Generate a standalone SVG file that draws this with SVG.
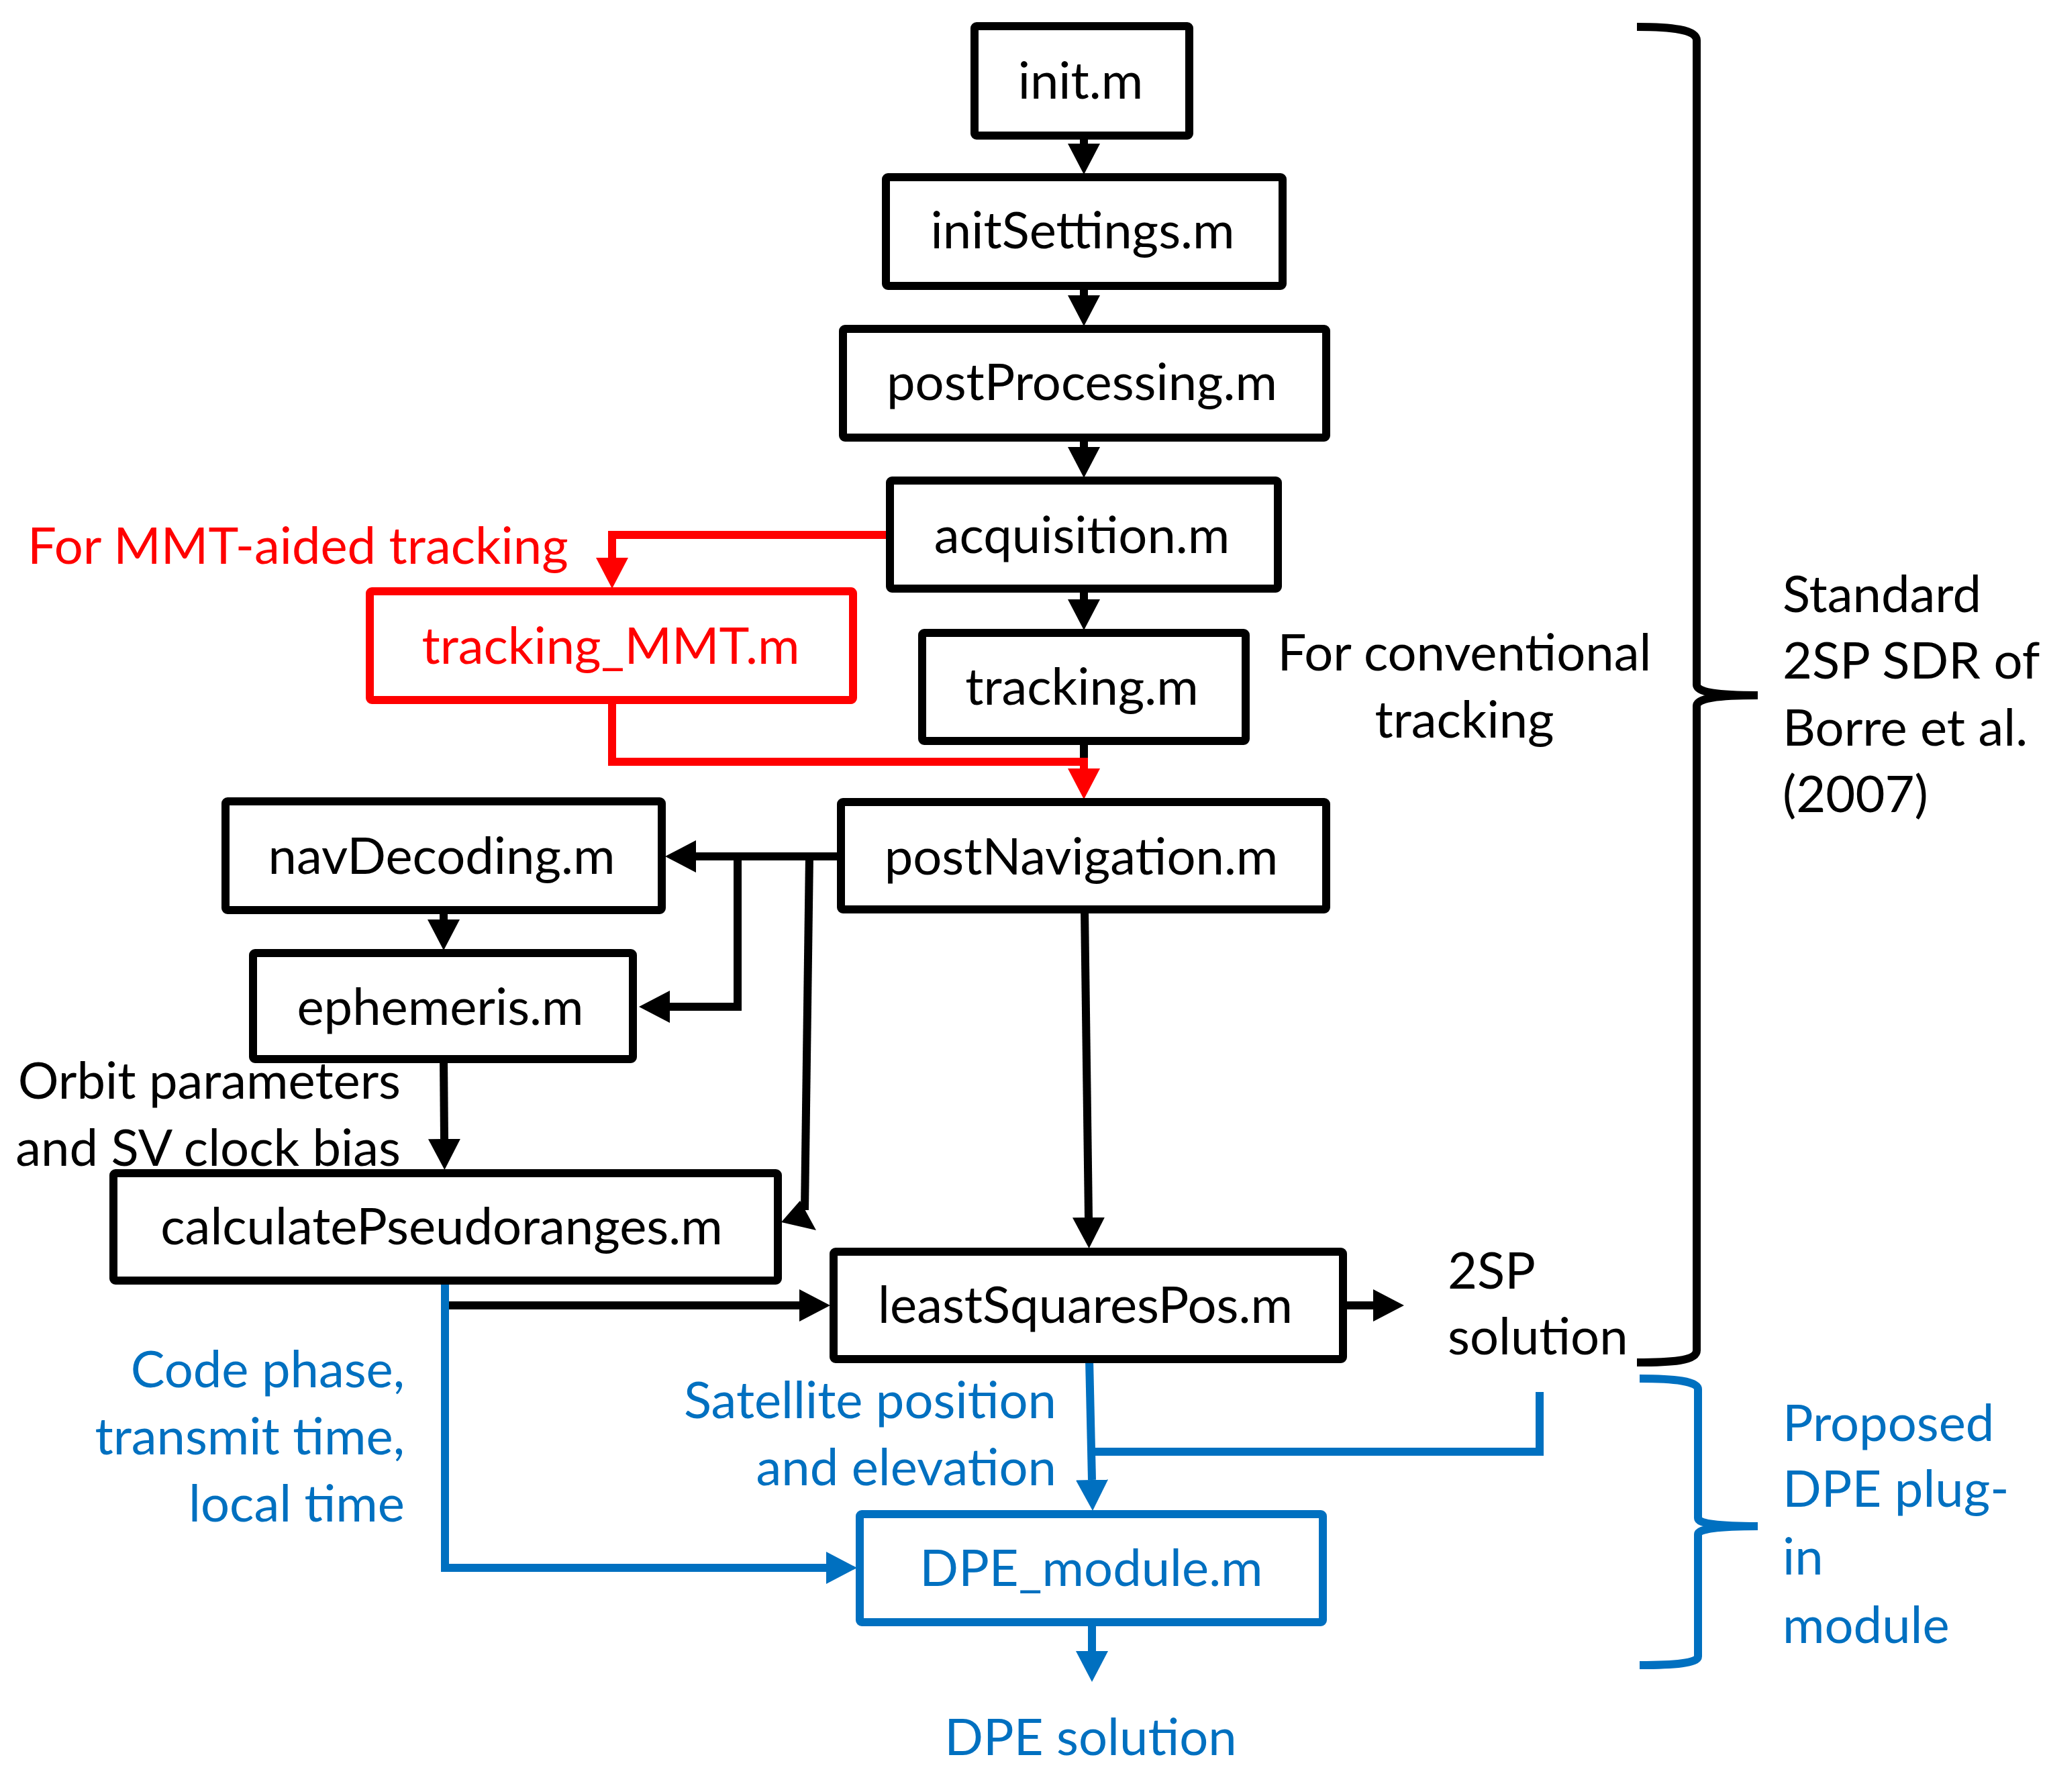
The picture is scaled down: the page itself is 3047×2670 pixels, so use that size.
<svg xmlns="http://www.w3.org/2000/svg" width="3047" height="2670" viewBox="0 0 3047 2670">
<defs>
<style>
.box{fill:#fff;stroke:#000;stroke-width:12;stroke-linejoin:round}
.rbox{fill:#fff;stroke:#FF0000;stroke-width:12;stroke-linejoin:round}
.bbox{fill:#fff;stroke:#0070C0;stroke-width:12;stroke-linejoin:round}
text{font-family:Lato,"Liberation Sans",sans-serif;font-size:76px}
.c{text-anchor:middle}
.e{text-anchor:end}
.k{fill:#000}
.r{fill:#FF0000}
.b{fill:#0070C0}
.lk{fill:none;stroke:#000;stroke-width:12}
.lr{fill:none;stroke:#FF0000;stroke-width:12}
.lb{fill:none;stroke:#0070C0;stroke-width:12}
</style>
<marker id="ak" markerUnits="userSpaceOnUse" markerWidth="46" markerHeight="48" viewBox="0 0 46 48" refX="0" refY="24" orient="auto"><path d="M0,0 L46,24 L0,48 z" fill="#000"/></marker>
<marker id="ar" markerUnits="userSpaceOnUse" markerWidth="46" markerHeight="48" viewBox="0 0 46 48" refX="0" refY="24" orient="auto"><path d="M0,0 L46,24 L0,48 z" fill="#FF0000"/></marker>
<marker id="ab" markerUnits="userSpaceOnUse" markerWidth="46" markerHeight="48" viewBox="0 0 46 48" refX="0" refY="24" orient="auto"><path d="M0,0 L46,24 L0,48 z" fill="#0070C0"/></marker>
</defs>
<rect width="3047" height="2670" fill="#fff"/>

<g id="connectors">
<path class="lk" d="M1615,202 V214" marker-end="url(#ak)"/>
<path class="lk" d="M1615,426 V440" marker-end="url(#ak)"/>
<path class="lk" d="M1615,652 V666" marker-end="url(#ak)"/>
<path class="lk" d="M1615,877 V893" marker-end="url(#ak)"/>
<path class="lk" d="M1615,1104 V1145"/>
<path class="lr" d="M1326,797 H912 V831" marker-end="url(#ar)"/>
<path class="lr" d="M912,1043 V1135 H1615 V1145" marker-end="url(#ar)"/>
<path class="lk" d="M1253,1276 H1037" marker-end="url(#ak)"/>
<path class="lk" d="M1099,1276 V1500 H998" marker-end="url(#ak)"/>
<path class="lk" style="stroke-width:12" d="M1206,1276 L1199,1803"/>
<polygon points="1192,1789 1216,1833 1164,1821" fill="#000"/>
<path class="lk" d="M661,1356 V1370" marker-end="url(#ak)"/>
<path class="lk" d="M661,1578 L662,1697" marker-end="url(#ak)"/>
<path class="lk" d="M1616,1355 L1622,1814" marker-end="url(#ak)"/>
<path class="lk" d="M663,1908 V1945 H1191" marker-end="url(#ak)"/>
<path class="lk" d="M2001,1945 H2046" marker-end="url(#ak)"/>
<path class="lb" d="M663,1908 V2336 H1231" marker-end="url(#ab)"/>
<path class="lb" d="M1623,2025 L1627,2205" marker-end="url(#ab)"/>
<path class="lb" d="M2294,2074 V2163 H1627"/>
<path class="lb" d="M1627,2417 V2460" marker-end="url(#ab)"/>
</g>

<g id="init"><rect class="box" x="1452" y="39" width="320" height="163" rx="3"/><text class="c k" x="1610" y="147">init.m</text></g>
<g id="initSettings"><rect class="box" x="1320" y="264" width="591" height="162" rx="3"/><text class="c k" x="1613" y="370">initSettings.m</text></g>
<g id="postProcessing"><rect class="box" x="1256" y="490" width="720" height="162" rx="3"/><text class="c k" x="1612" y="596">postProcessing.m</text></g>
<g id="acquisition"><rect class="box" x="1326" y="716" width="578" height="161" rx="3"/><text class="c k" x="1612" y="824">acquisition.m</text></g>
<g id="tracking"><rect class="box" x="1374" y="943" width="482" height="161" rx="3"/><text class="c k" x="1612" y="1050">tracking.m</text></g>
<g id="tracking_MMT"><rect class="rbox" x="551" y="881" width="720" height="162" rx="3"/><text class="c r" x="910" y="989">tracking_MMT.m</text></g>
<g id="postNavigation"><rect class="box" x="1253" y="1195" width="723" height="160" rx="3"/><text class="c k" x="1611" y="1303">postNavigation.m</text></g>
<g id="navDecoding"><rect class="box" x="336" y="1194" width="650" height="162" rx="3"/><text class="c k" x="658" y="1302">navDecoding.m</text></g>
<g id="ephemeris"><rect class="box" x="377" y="1420" width="566" height="158" rx="3"/><text class="c k" x="656" y="1527">ephemeris.m</text></g>
<g id="calculatePseudoranges"><rect class="box" x="169" y="1748" width="990" height="160" rx="3"/><text class="c k" x="658" y="1854">calculatePseudoranges.m</text></g>
<g id="leastSquaresPos"><rect class="box" x="1242" y="1865" width="759" height="160" rx="3"/><text class="c k" x="1617" y="1971">leastSquaresPos.m</text></g>
<g id="DPE_module"><rect class="bbox" x="1281" y="2256" width="690" height="161" rx="3"/><text class="c b" x="1626" y="2363">DPE_module.m</text></g>

<g id="labels">
<text class="r" x="41" y="840">For MMT-aided tracking</text>
<text class="c k" x="2182" y="999">For conventional</text>
<text class="c k" x="2182" y="1099">tracking</text>
<text class="e k" x="597" y="1637">Orbit parameters</text>
<text class="e k" x="597" y="1737">and SV clock bias</text>
<text class="e b" x="603" y="2067">Code phase,</text>
<text class="e b" x="603" y="2167">transmit time,</text>
<text class="e b" x="603" y="2267">local time</text>
<text class="e b" x="1574" y="2113">Satellite position</text>
<text class="e b" x="1574" y="2213">and elevation</text>
<text class="k" x="2157" y="1920">2SP</text>
<text class="k" x="2157" y="2018">solution</text>
<text class="c b" x="1625" y="2615">DPE solution</text>
<text class="k" x="2656" y="912">Standard</text>
<text class="k" x="2656" y="1011">2SP SDR of</text>
<text class="k" x="2656" y="1111">Borre et al.</text>
<text class="k" x="2656" y="1210">(2007)</text>
<text class="b" x="2656" y="2147">Proposed</text>
<text class="b" x="2656" y="2245">DPE plug-</text>
<text class="b" x="2656" y="2346">in</text>
<text class="b" x="2656" y="2448">module</text>
</g>

<g id="braces">
<path class="lk" d="M2439,40 C2490,40 2528,44 2528,60 L2528,1020 C2528,1032 2560,1036 2619,1036 C2560,1036 2528,1040 2528,1052 L2528,2012 C2528,2028 2490,2030 2439,2030"/>
<path class="lb" d="M2443,2054 C2495,2054 2530,2058 2530,2070 L2530,2262 C2530,2270 2560,2274 2619,2274 C2560,2274 2530,2278 2530,2286 L2530,2468 C2530,2478 2495,2481 2443,2481"/>
</g>
</svg>
